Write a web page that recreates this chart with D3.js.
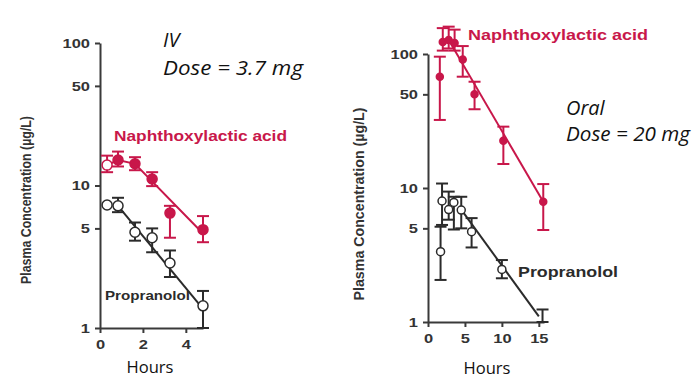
<!DOCTYPE html>
<html>
<head>
<meta charset="utf-8">
<script src="https://cdn.jsdelivr.net/npm/d3@7"></script>
<style>
  body { margin: 0; background: #fff; }
  svg { display: block; }
</style>
</head>
<body>
<svg id="chart" width="696" height="383"></svg>
<script>
// IV panel (dose 3.7 mg)
const ivTimes = [0.33, 0.84, 1.63, 2.43, 3.26, 4.8];
const ivNaph = [13.9, 15.1, 14.2, 11.1, 6.4, 4.9];
const ivNaphLo = [12.4, 13.6, 12.8, 9.9, 4.3, 4.0];
const ivNaphHi = [16.2, 17.3, 15.8, 12.4, 7.2, 6.1];
const ivProp = [7.3, 7.2, 4.7, 4.3, 2.86, 1.43];
const ivPropLo = [null, 6.5, 4.1, 3.4, 2.28, 1.0];
const ivPropHi = [null, 8.2, 5.5, 5.0, 3.5, 1.82];
const ivNaphFitT = [0.33, 0.84, 1.63, 4.8];
const ivNaphFitV = [13.9, 15.1, 14.2, 4.6];
const ivPropFitT = [0.84, 4.8];
const ivPropFitV = [7.2, 1.36];

// Oral panel (dose 20 mg)
const poNaphTimes = [1.6, 2.0, 2.8, 3.6, 4.7, 6.3, 10.2, 15.6];
const poNaph = [67.7, 123, 127, 121, 91, 50, 22.5, 7.9];
const poNaphLo = [32.2, 106, 110, 106, 67.7, 38.7, 15.1, 4.86];
const poNaphHi = [95.5, 156, 160, 152, 114.6, 62.1, 28.7, 10.7];
const poPropTimes = [1.7, 1.9, 2.8, 3.5, 4.5, 5.9, 10.0, 15.5];
const poProp = [3.35, 8.0, 6.9, 7.8, 6.85, 4.72, 2.47, 0.9];
const poPropLo = [2.06, 5.3, 5.8, 4.9, 5.0, 3.6, 2.12, 1.0];
const poPropHi = [5.14, 10.8, 9.4, 8.6, 8.6, 5.96, 2.9, 1.24];
const poNaphFitT = [2.8, 15.6];
const poNaphFitV = [127, 7.9];
const poPropFitT = [4.5, 15.0];
const poPropFitV = [6.9, 1.1];

const yTicks = [1, 5, 10, 50, 100];
const ivXTicks = [0, 2, 4];
const poXTicks = [0, 5, 10, 15];

const RED = "#c8174a";
const INK = "#2b2b2b";
const AXIS = "#3a3a3a";
const HELV = "'Liberation Sans', Arial, sans-serif";
const CAL = "'Open Sans', 'Noto Sans', sans-serif";

const svg = d3.select("#chart");

// the source picture is stretched sideways, so widen text to match
function stretch(sel, k) {
    sel.each(function () {
        const w = this.getComputedTextLength();
        d3.select(this).attr("textLength", w * k).attr("lengthAdjust", "spacingAndGlyphs");
    });
}

function series(t, v, lo, hi) {
    return t.map((d, i) => ({ t: d, v: v[i], lo: lo[i], hi: hi[i] }));
}

function drawPanel(p) {
    const x = d3.scaleLinear().domain(p.xDomain).range(p.xRange);
    const y = d3.scaleLog().domain([1, 100]).range(p.yRange);
    const g = svg.append("g");

    // axes
    const ya = g.append("g")
        .attr("transform", `translate(${p.xRange[0]},0)`)
        .call(d3.axisLeft(y).tickValues(yTicks).tickFormat(d3.format("d")).tickSize(5).tickSizeOuter(0).tickPadding(5));
    const xa = g.append("g")
        .attr("transform", `translate(0,${p.yRange[0]})`)
        .call(d3.axisBottom(x).tickValues(p.xTicks).tickFormat(d3.format("d")).tickSize(5).tickSizeOuter(0).tickPadding(6));
    [ya, xa].forEach(a => {
        a.select(".domain").attr("stroke", AXIS).attr("stroke-width", 2);
        a.selectAll(".tick line").attr("stroke", AXIS).attr("stroke-width", 2);
        a.selectAll(".tick text")
            .attr("fill", "#333")
            .style("font-family", HELV)
            .style("font-weight", "bold")
            .style("font-size", "13.5px");
        stretch(a.selectAll(".tick text"), 1.22);
    });

    const line = d3.line().x(d => x(d[0])).y(d => y(d[1]));

    p.groups.forEach(s => {
        // fit line
        g.append("path")
            .datum(s.fitT.map((d, i) => [d, s.fitV[i]]))
            .attr("fill", "none")
            .attr("stroke", s.color)
            .attr("stroke-width", 2)
            .attr("d", line);

        // error bars
        const bars = g.append("g").attr("stroke", s.color).attr("stroke-width", 2);
        s.data.filter(d => d.lo != null).forEach(d => {
            const cx = x(d.t);
            bars.append("line").attr("x1", cx).attr("x2", cx).attr("y1", y(d.lo)).attr("y2", y(d.hi));
            [d.lo, d.hi].forEach(v => {
                bars.append("line")
                    .attr("x1", cx - p.cap).attr("x2", cx + p.cap)
                    .attr("y1", y(v)).attr("y2", y(v));
            });
        });

        // points
        g.append("g").selectAll("circle")
            .data(s.data.filter(d => d.v >= 1))
            .enter().append("circle")
            .attr("cx", d => x(d.t))
            .attr("cy", d => y(d.v))
            .attr("r", s.r)
            .attr("fill", (d, i) => s.open(i) ? "#fff" : s.color)
            .attr("stroke", s.color)
            .attr("stroke-width", 1.5);

        // series label
        g.append("text")
            .attr("x", s.label[0])
            .attr("y", s.label[1])
            .attr("fill", s.color)
            .attr("textLength", s.label[3])
            .attr("lengthAdjust", "spacingAndGlyphs")
            .style("font-family", HELV)
            .style("font-weight", "bold")
            .style("font-size", s.label[2] + "px")
            .text(s.name);
    });

    // y title
    g.append("text")
        .attr("transform", `translate(${p.yTitle[0]},${p.yTitle[1]}) rotate(-90)`)
        .attr("text-anchor", "middle")
        .attr("fill", "#333")
        .attr("textLength", p.yTitle[3])
        .attr("lengthAdjust", "spacingAndGlyphs")
        .style("font-family", HELV)
        .style("font-weight", "bold")
        .style("font-size", p.yTitle[2] + "px")
        .text("Plasma Concentration (µg/L)");

    // x title
    g.append("text")
        .attr("x", p.xTitle[0])
        .attr("y", p.xTitle[1])
        .attr("text-anchor", "middle")
        .attr("fill", "#111")
        .attr("textLength", 47)
        .attr("lengthAdjust", "spacingAndGlyphs")
        .style("font-family", CAL)
        .style("font-size", "16px")
        .text("Hours");

    // route / dose note
    p.note.forEach(n => {
        const t = g.append("text")
            .attr("x", n[0])
            .attr("y", n[1])
            .attr("fill", "#111")
            .style("font-family", CAL)
            .style("font-style", "italic")
            .style("font-size", "20px")
            .text(n[2]);
        if (n[3]) t.attr("textLength", n[3]).attr("lengthAdjust", "spacingAndGlyphs");
    });
}

drawPanel({
    xDomain: [0, 4.8], xRange: [100, 203], yRange: [328, 43], xTicks: ivXTicks, cap: 6,
    yTitle: [31, 200, 15, 168], xTitle: [150, 373],
    note: [[163, 47, "IV"], [163, 75, "Dose = 3.7 mg", 140]],
    groups: [
        { name: "Naphthoxylactic acid", color: RED, r: 5, open: i => i === 0,
          data: series(ivTimes, ivNaph, ivNaphLo, ivNaphHi),
          fitT: ivNaphFitT, fitV: ivNaphFitV, label: [114, 141, 14, 173] },
        { name: "Propranolol", color: INK, r: 5, open: () => true,
          data: series(ivTimes, ivProp, ivPropLo, ivPropHi),
          fitT: ivPropFitT, fitV: ivPropFitV, label: [105, 300, 12, 85] }
    ]
});

drawPanel({
    xDomain: [0, 15.7], xRange: [428, 544], yRange: [322, 54], xTicks: poXTicks, cap: 6,
    yTitle: [364, 204, 15, 193], xTitle: [487, 374],
    note: [[566, 115, "Oral"], [566, 141, "Dose = 20 mg", 124]],
    groups: [
        { name: "Naphthoxylactic acid", color: RED, r: 3.5, open: () => false,
          data: series(poNaphTimes, poNaph, poNaphLo, poNaphHi),
          fitT: poNaphFitT, fitV: poNaphFitV, label: [468, 40, 15, 180] },
        { name: "Propranolol", color: INK, r: 4, open: () => true,
          data: series(poPropTimes, poProp, poPropLo, poPropHi),
          fitT: poPropFitT, fitV: poPropFitV, label: [518, 277, 15, 100] }
    ]
});
</script>
</body>
</html>
